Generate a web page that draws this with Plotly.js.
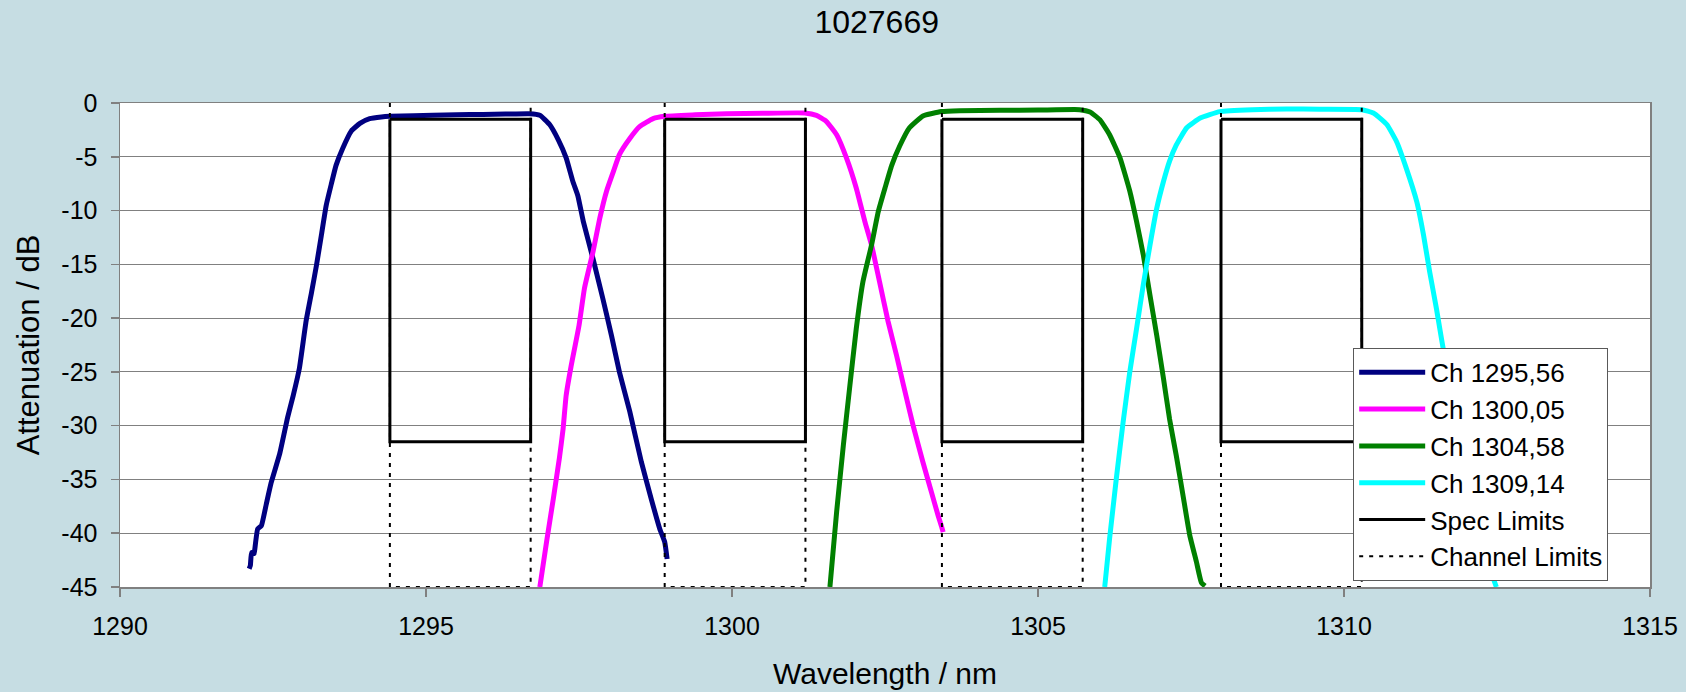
<!DOCTYPE html>
<html>
<head>
<meta charset="utf-8">
<script src="https://cdn.plot.ly/plotly-3.0.1.min.js"></script>
<style>
  html, body { margin: 0; padding: 0; background: #c6dde3; }
  #chart { width: 1686px; height: 692px; }
</style>
</head>
<body>
<div id="chart"></div>
<script>
// ---- Data ----
const chartTitle = "1027669";
const seriesNames = ["Ch 1295,56", "Ch 1300,05", "Ch 1304,58", "Ch 1309,14"];
const seriesColors = ["#000080", "#ff00ff", "#008000", "#00ffff"];

const ch1X = [1292.11, 1292.13, 1292.15, 1292.19, 1292.20, 1292.25, 1292.31, 1292.39, 1292.47, 1292.61, 1292.74, 1292.83, 1292.93, 1293.04, 1293.13, 1293.21, 1293.29, 1293.37, 1293.45, 1293.53, 1293.64, 1293.78, 1293.92, 1294.08, 1294.27, 1294.41, 1294.80, 1295.11, 1295.50, 1295.93, 1296.30, 1296.69, 1296.86, 1297.02, 1297.16, 1297.29, 1297.40, 1297.48, 1297.57, 1297.73, 1297.89, 1298.03, 1298.16, 1298.33, 1298.52, 1298.68, 1298.82, 1298.90, 1298.94];
const ch1Y = [-43.3, -43.0, -41.8, -41.9, -41.6, -39.6, -39.3, -37.3, -35.3, -32.6, -29.2, -27.2, -24.7, -20.3, -17.6, -15.1, -12.3, -9.5, -7.6, -5.8, -4.2, -2.6, -1.9, -1.46, -1.3, -1.24, -1.18, -1.15, -1.1, -1.06, -1.03, -1.0, -1.15, -2.0, -3.4, -5.1, -7.3, -8.6, -11.0, -14.5, -18.2, -21.6, -25.0, -28.7, -33.4, -36.8, -39.6, -40.8, -42.4];

const ch2X = [1296.86, 1296.97, 1297.08, 1297.18, 1297.24, 1297.29, 1297.37, 1297.50, 1297.59, 1297.73, 1297.84, 1297.95, 1298.06, 1298.16, 1298.33, 1298.49, 1298.71, 1298.90, 1299.40, 1299.91, 1300.50, 1301.19, 1301.38, 1301.54, 1301.71, 1301.87, 1302.03, 1302.17, 1302.28, 1302.41, 1302.55, 1302.69, 1302.80, 1302.96, 1303.12, 1303.26, 1303.37, 1303.42, 1303.45];
const ch2Y = [-45, -40.8, -36.8, -33.0, -30.3, -27.2, -24.5, -20.7, -17.2, -13.8, -10.7, -8.2, -6.4, -4.8, -3.3, -2.2, -1.46, -1.24, -1.1, -0.99, -0.95, -0.93, -1.15, -1.7, -2.95, -5.1, -7.9, -11.0, -13.2, -16.6, -20.3, -23.5, -26.2, -30.0, -33.4, -36.2, -38.4, -39.3, -39.9];

const ch3X = [1301.60, 1301.71, 1301.82, 1301.92, 1302.03, 1302.14, 1302.28, 1302.39, 1302.50, 1302.61, 1302.74, 1302.90, 1303.12, 1303.42, 1303.72, 1304.38, 1305.00, 1305.68, 1305.85, 1306.01, 1306.17, 1306.34, 1306.50, 1306.61, 1306.72, 1306.83, 1306.94, 1307.05, 1307.15, 1307.26, 1307.37, 1307.48, 1307.59, 1307.67, 1307.73];
const ch3Y = [-45, -38.0, -31.8, -26.6, -21.0, -16.6, -13.2, -10.1, -7.9, -5.8, -4.0, -2.3, -1.2, -0.8, -0.71, -0.68, -0.66, -0.62, -0.84, -1.55, -2.95, -5.1, -8.2, -11.0, -14.1, -17.9, -21.6, -25.6, -29.4, -32.8, -36.5, -40.2, -42.7, -44.6, -44.9];

const ch4X = [1306.09, 1306.17, 1306.28, 1306.39, 1306.50, 1306.61, 1306.72, 1306.83, 1306.94, 1307.05, 1307.15, 1307.26, 1307.43, 1307.65, 1307.97, 1308.50, 1309.06, 1309.60, 1310.29, 1310.48, 1310.70, 1310.86, 1311.02, 1311.19, 1311.30, 1311.40, 1311.51, 1311.62, 1311.85, 1312.08, 1312.28, 1312.44, 1312.49];
const ch4Y = [-45, -40.5, -34.9, -29.7, -25.0, -21.0, -16.9, -13.2, -9.8, -7.3, -5.4, -3.9, -2.3, -1.4, -0.8, -0.62, -0.55, -0.58, -0.62, -0.93, -2.0, -3.6, -6.1, -9.2, -12.3, -15.7, -19.1, -22.8, -29.0, -35.0, -40.0, -44.2, -45];

// Channel / spec limits
const channelLow  = [1294.41, 1298.90, 1303.43, 1307.99];
const channelHigh = [1296.71, 1301.20, 1305.73, 1310.29];
const specTop = -1.5;
const specBottom = -31.5;
const axisTop = 0;
const axisBottom = -45;

const xTicks = [1290, 1295, 1300, 1305, 1310, 1315];
const yTicks = [0, -5, -10, -15, -20, -25, -30, -35, -40, -45];

// ---- Build traces ----
const FONT = "Liberation Sans, Arial, sans-serif";
const curveX = [ch1X, ch2X, ch3X, ch4X];
const curveY = [ch1Y, ch2Y, ch3Y, ch4Y];

const traces = [];
for (let i = 0; i < 4; i++) {
  traces.push({
    type: "scatter", mode: "lines",
    x: curveX[i], y: curveY[i],
    name: seriesNames[i],
    line: { color: seriesColors[i], width: 5, shape: "spline", smoothing: 0.4 },
    legendgroup: "g" + i,
    hoverinfo: "x+y+name"
  });
}

// Spec limits: closed rectangles
const specX = [], specY = [];
for (let i = 0; i < channelLow.length; i++) {
  specX.push(channelLow[i], channelLow[i], channelHigh[i], channelHigh[i], channelLow[i], null);
  specY.push(specTop, specBottom, specBottom, specTop, specTop, null);
}
// Channel limits: dotted U shapes from top to bottom
const chanX = [], chanY = [];
for (let i = 0; i < channelLow.length; i++) {
  chanX.push(channelLow[i], channelLow[i], channelHigh[i], channelHigh[i], null);
  chanY.push(axisTop, axisBottom, axisBottom, axisTop, null);
}

traces.push({
  type: "scatter", mode: "lines", x: specX, y: specY,
  name: "Spec Limits", connectgaps: false,
  line: { color: "#000000", width: 3 }, legendgroup: "g4"
});
traces.push({
  type: "scatter", mode: "lines", x: chanX, y: chanY,
  name: "Channel Limits", connectgaps: false,
  line: { color: "#000000", width: 2, dash: "4px,6px" }, legendgroup: "g5"
});

const layout = {
  width: 1686, height: 692,
  paper_bgcolor: "#c6dde3",
  plot_bgcolor: "#ffffff",
  font: { family: FONT, color: "#000000", size: 25 },
  margin: { l: 120, r: 36, t: 103, b: 105, pad: 0 },
  title: {
    text: chartTitle,
    font: { family: FONT, size: 32, color: "#000000" },
    xref: "container", x: 0.52, xanchor: "center",
    yref: "container", y: 0.968, yanchor: "middle"
  },
  xaxis: {
    range: [1290, 1315], tickvals: xTicks, ticktext: xTicks.map(String),
    showgrid: false, zeroline: false,
    showline: true, linecolor: "#808080", linewidth: 1.5, mirror: true,
    ticks: "outside", ticklen: 8, tickcolor: "#808080", tickwidth: 1.5,
    tickfont: { family: FONT, size: 25, color: "#000000" },
    ticklabelstandoff: 8,
    title: { text: "Wavelength / nm", font: { family: FONT, size: 30, color: "#000000" }, standoff: 24 },
    automargin: false
  },
  yaxis: {
    range: [-45, 0], tickvals: yTicks, ticktext: yTicks.map(String),
    showgrid: true, gridcolor: "#808080", gridwidth: 1,
    zeroline: false,
    showline: true, linecolor: "#808080", linewidth: 1.5, mirror: true,
    ticks: "outside", ticklen: 8, tickcolor: "#808080", tickwidth: 1.5,
    tickfont: { family: FONT, size: 25, color: "#000000" },
    ticklabelstandoff: 8,
    title: { text: "Attenuation / dB", font: { family: FONT, size: 31, color: "#000000" }, standoff: 12 },
    automargin: false
  },
  showlegend: true,
  legend: {
    x: 0.806, xanchor: "left", y: 0.494, yanchor: "top",
    bgcolor: "#ffffff", bordercolor: "#595959", borderwidth: 1,
    font: { family: FONT, size: 26, color: "#000000" },
    tracegroupgap: 1.5, itemwidth: 66,
    traceorder: "normal"
  }
};

Plotly.newPlot("chart", traces, layout, { displayModeBar: false, staticPlot: true });
</script>
</body>
</html>
